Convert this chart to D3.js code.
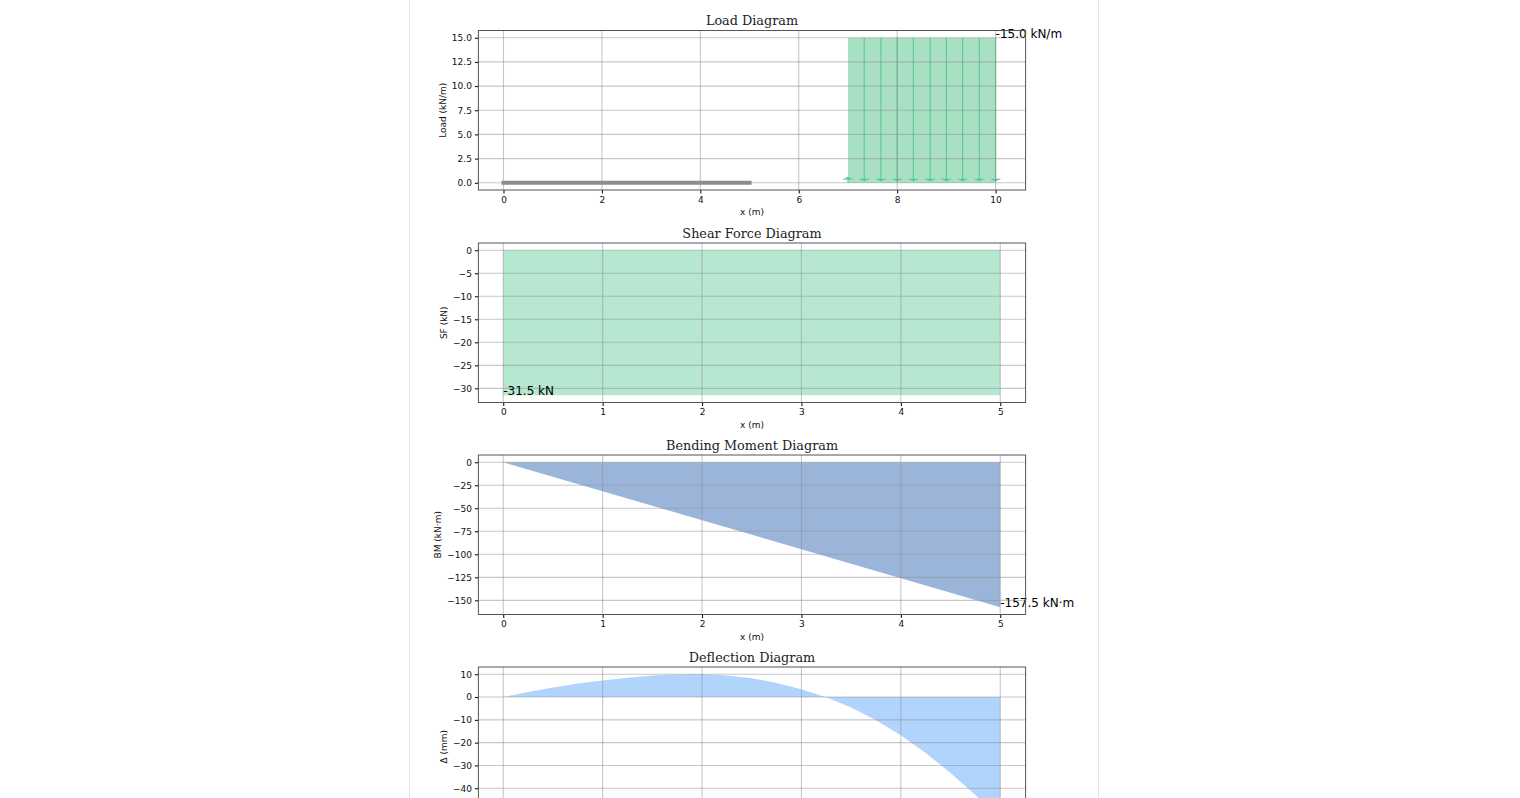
<!DOCTYPE html>
<html>
<head>
<meta charset="utf-8">
<script src="https://cdn.jsdelivr.net/npm/d3@7"></script>
<style>
  html, body { margin: 0; background: #fff; overflow: hidden; height: 798px; }
  #page { position: absolute; left: 409px; top: 0; width: 688px; height: 798px;
          border-left: 1px solid #e4e4e4; border-right: 1px solid #e4e4e4; }
  svg { position: absolute; left: 0; top: 0; }
  text { font-family: "DejaVu Sans", sans-serif; fill: #111; }
  .title { font-family: "DejaVu Serif", serif; font-size: 12.8px; fill: #222; }
  .tick text { font-size: 9px; }
  .label { font-size: 9px; }
  .note { font-size: 12px; fill: #000; }
</style>
</head>
<body>
<div id="page"></div>
<svg id="chart" width="1520" height="798"></svg>
<script>
// Load diagram
const loadX = [7, 10]
const loadY = [15, 15]
const beamX = [0, 5]
const arrowX = [7, 7.33, 7.67, 8, 8.33, 8.67, 9, 9.33, 9.67, 10]
const arrowFrom = [0, 15, 15, 15, 15, 15, 15, 15, 15, 15]
const arrowTo = [0.6, 0.15, 0.15, 0.15, 0.15, 0.15, 0.15, 0.15, 0.15, 0.15]
const loadTicksX = [0, 2, 4, 6, 8, 10]
const loadTicksY = [0, 2.5, 5, 7.5, 10, 12.5, 15]

// Shear force
const shearX = [0, 5]
const shearY = [-31.5, -31.5]
const shearTicksY = [0, -5, -10, -15, -20, -25, -30]

// Bending moment
const momentX = [0, 5]
const momentY = [0, -157.5]
const momentTicksY = [0, -25, -50, -75, -100, -125, -150]

// Deflection
const deflX = [0, 0.25, 0.5, 0.75, 1, 1.25, 1.5, 1.75, 2, 2.25, 2.5, 2.75, 3, 3.25, 3.5, 3.75, 4, 4.25, 4.5, 4.75, 5]
const deflY = [0, 2.2, 4.2, 5.9, 7.3, 8.5, 9.4, 9.9, 10, 9.5, 8.3, 6.2, 3.4, -0.1, -4.6, -10.2, -16.8, -24.5, -33.3, -43, -53.6]
const deflTicksY = [10, 0, -10, -20, -30, -40]

const beamTicksX = [0, 1, 2, 3, 4, 5]

const svg = d3.select('#chart')

const plotLeft = 478.4, plotRight = 1025.6, plotHeight = 159.5

// pad a domain by 5% on both sides, as the plot library did
const padded = (lo, hi) => {
  const m = (hi - lo) * 0.05
  return [lo - m, hi + m]
}

const minusSign = (fmt) => (d) => fmt(d).replace('-', '\u2212')

let drawPanel = (opt) => {
  const top = opt.top, bottom = top + plotHeight

  const x = d3.scaleLinear().domain(opt.xDomain).range([plotLeft, plotRight])
  const y = d3.scaleLinear().domain(padded(opt.yLo, opt.yHi)).range([bottom, top])

  const g = svg.append('g')

  // fill
  const area = d3.area().x(d => x(d[0])).y0(y(0)).y1(d => y(d[1]))
  g.append('path')
    .attr('d', area(d3.zip(opt.xs, opt.ys)))
    .attr('fill', opt.color)

  if (opt.extra) opt.extra(g, x, y)

  // grid
  g.append('g').selectAll('line').data(opt.ticksX).enter().append('line')
    .attr('x1', d => x(d)).attr('x2', d => x(d))
    .attr('y1', top).attr('y2', bottom)
    .attr('stroke', '#909090').attr('stroke-opacity', 0.5).attr('stroke-width', 1.1)
  g.append('g').selectAll('line').data(opt.ticksY).enter().append('line')
    .attr('x1', plotLeft).attr('x2', plotRight)
    .attr('y1', d => y(d)).attr('y2', d => y(d))
    .attr('stroke', '#909090').attr('stroke-opacity', 0.5).attr('stroke-width', 1.1)

  // notes sit under the frame
  if (opt.note) {
    g.append('text').attr('class', 'note')
      .attr('x', x(opt.note.x)).attr('y', y(opt.note.y))
      .text(opt.note.text)
  }

  // axes, the last panel runs off the bottom of the window so it has no x labels
  if (bottom + 10 < 798) {
    g.append('g')
      .attr('transform', `translate(0,${bottom})`)
      .call(d3.axisBottom(x).tickValues(opt.ticksX).tickSize(3.5).tickPadding(3).tickFormat(d3.format('d')))
    g.append('text').attr('class', 'label')
      .attr('x', 752).attr('y', bottom + 25)
      .attr('text-anchor', 'middle').text('x (m)')
  }
  g.append('g')
    .attr('transform', `translate(${plotLeft},0)`)
    .call(d3.axisLeft(y).tickValues(opt.ticksY).tickSize(3.5).tickPadding(3).tickFormat(minusSign(opt.fmt)))

  g.selectAll('.domain').remove()
  g.append('rect')
    .attr('x', plotLeft).attr('y', top)
    .attr('width', plotRight - plotLeft).attr('height', plotHeight)
    .attr('fill', 'none').attr('stroke', '#555').attr('stroke-width', 1)

  g.append('text').attr('class', 'title')
    .attr('x', 752).attr('y', top - 5.5)
    .attr('text-anchor', 'middle').text(opt.title)
  g.append('text').attr('class', 'label')
    .attr('transform', `translate(${opt.labelX},${top + plotHeight / 2}) rotate(-90)`)
    .attr('text-anchor', 'middle').text(opt.yLabel)
}

// arrows and beam of the load panel
let loadExtra = (g, x, y) => {
  g.append('line')
    .attr('x1', x(beamX[0])).attr('x2', x(beamX[1]))
    .attr('y1', y(0)).attr('y2', y(0))
    .attr('stroke', '#8c8c8c').attr('stroke-width', 4).attr('stroke-linecap', 'square')

  arrowX.forEach((ax, i) => {
    const y0 = y(arrowFrom[i]), y1 = y(arrowTo[i])
    const dir = y1 > y0 ? -1 : 1
    g.append('line')
      .attr('x1', x(ax)).attr('x2', x(ax))
      .attr('y1', y0).attr('y2', y1)
      .attr('stroke', '#58c98f').attr('stroke-width', 1.1)
    const head = d3.path()
    head.moveTo(x(ax), y1)
    head.lineTo(x(ax) - 6, y1 + dir * 2.5)
    head.lineTo(x(ax) + 6, y1 + dir * 2.5)
    head.closePath()
    g.append('path').attr('d', head.toString()).attr('fill', '#58c98f')
  })
}

drawPanel({
  title: 'Load Diagram', yLabel: 'Load (kN/m)', labelX: 446, top: 30.5,
  xDomain: [-0.51, 10.61], yLo: 0, yHi: 15,
  xs: loadX, ys: loadY, color: '#a9e0c3',
  ticksX: loadTicksX, ticksY: loadTicksY, fmt: d3.format('.1f'),
  note: { x: 10, y: 15, text: '-15.0 kN/m' },
  extra: loadExtra
})

drawPanel({
  title: 'Shear Force Diagram', yLabel: 'SF (kN)', labelX: 447, top: 243,
  xDomain: [-0.25, 5.255], yLo: -31.5, yHi: 0,
  xs: shearX, ys: shearY, color: '#b6e7d0',
  ticksX: beamTicksX, ticksY: shearTicksY, fmt: d3.format('d'),
  note: { x: 0, y: -31.5, text: '-31.5 kN' }
})

drawPanel({
  title: 'Bending Moment Diagram', yLabel: 'BM (kN\u00b7m)', labelX: 441, top: 455,
  xDomain: [-0.25, 5.255], yLo: -157.5, yHi: 0,
  xs: momentX, ys: momentY, color: '#9bb5da',
  ticksX: beamTicksX, ticksY: momentTicksY, fmt: d3.format('d'),
  note: { x: 5, y: -157.5, text: '-157.5 kN\u00b7m' }
})

drawPanel({
  title: 'Deflection Diagram', yLabel: '\u0394 (mm)', labelX: 447, top: 667,
  xDomain: [-0.25, 5.255], yLo: -53.6, yHi: 10,
  xs: deflX, ys: deflY, color: '#b1d4fd',
  ticksX: beamTicksX, ticksY: deflTicksY, fmt: d3.format('d')
})
</script>
</body>
</html>
